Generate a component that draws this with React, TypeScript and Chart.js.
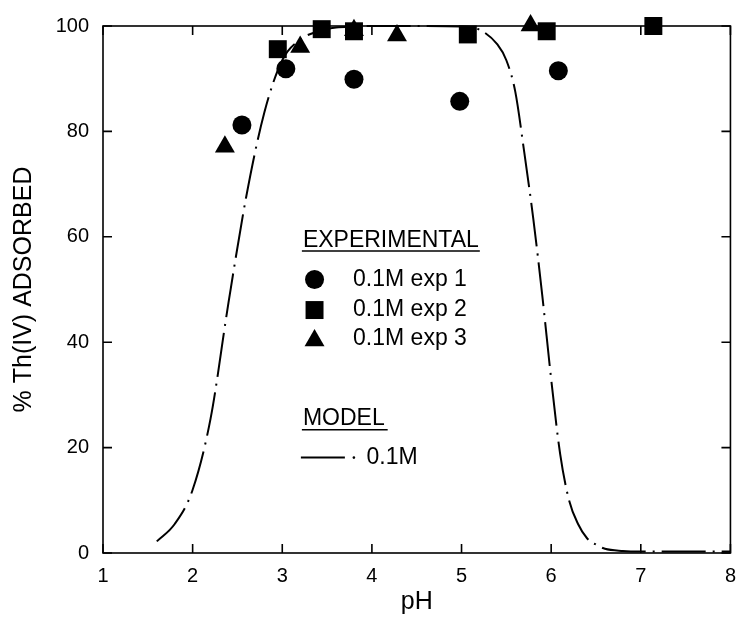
import React, { useEffect, useRef } from "react";
import { Chart, registerables } from "chart.js";

Chart.register(...registerables);

// ---- Data ----
const exp1X = [2.55, 3.04, 3.8, 4.98, 6.08];
const exp1Y = [81.2, 91.9, 89.9, 85.7, 91.5];

const exp2X = [2.95, 3.44, 3.8, 5.07, 5.95, 7.14];
const exp2Y = [95.6, 99.4, 99.0, 98.4, 99.0, 100.0];

const exp3X = [2.36, 3.2, 3.8, 4.28, 5.77];
const exp3Y = [77.1, 96.0, 99.2, 98.2, 100.1];

const modelX = [1.6, 1.8, 2.0, 2.2, 2.4, 2.6, 2.8, 3.0, 3.2, 3.4, 3.6, 3.8, 4.0, 4.5, 5.0, 5.2, 5.4, 5.5, 5.6, 5.7, 5.8, 5.9, 6.0, 6.1, 6.2, 6.3, 6.4, 6.5, 6.6, 6.8, 7.0, 7.5, 8.0];
const modelY = [2.2, 5.5, 12.0, 25.5, 47.5, 67.8, 83.6, 93.5, 97.4, 99.0, 99.7, 99.9, 100, 100, 99.9, 99.3, 96.5, 93.5, 87.5, 76.0, 63.5, 49.0, 33.0, 18.8, 10.0, 5.5, 2.8, 1.6, 0.8, 0.4, 0.3, 0.3, 0.3];

const xTicks = [1, 2, 3, 4, 5, 6, 7, 8];
const yTicks = [0, 20, 40, 60, 80, 100];

const xTitle = "pH";
const yTitle = "% Th(IV) ADSORBED";
const legendHeader1 = "EXPERIMENTAL";
const legendHeader2 = "MODEL";
const seriesLabels = ["0.1M exp 1", "0.1M exp 2", "0.1M exp 3"];
const modelLabel = "0.1M";

const FONT = "'Liberation Sans', Arial, Helvetica, sans-serif";
const DASH = [44, 7, 2, 7];

const toPts = (xs: number[], ys: number[]) => xs.map((x, i) => ({ x, y: ys[i] }));

function drawMarker(ctx: CanvasRenderingContext2D, style: string, x: number, y: number, r: number) {
  ctx.beginPath();
  if (style === "circle") {
    ctx.arc(x, y, r, 0, Math.PI * 2);
  } else if (style === "rect") {
    const s = Math.SQRT1_2 * r;
    ctx.rect(x - s, y - s, 2 * s, 2 * s);
  } else {
    const h = r;
    ctx.moveTo(x, y - h);
    ctx.lineTo(x + h * Math.sin(Math.PI * 2 / 3), y + h * 0.5);
    ctx.lineTo(x - h * Math.sin(Math.PI * 2 / 3), y + h * 0.5);
    ctx.closePath();
  }
  ctx.fill();
}

const framePlugin = {
  id: "frameTicks",
  afterDatasetsDraw(chart: any) {
    const { ctx, chartArea } = chart;
    const { left, right, top, bottom } = chartArea;
    const xs = chart.scales.x;
    const ys = chart.scales.y;
    ctx.save();
    ctx.strokeStyle = "#000";
    ctx.lineWidth = 1.6;
    ctx.strokeRect(left, top, right - left, bottom - top);
    const tl = 9;
    ctx.beginPath();
    xs.ticks.forEach((t: any) => {
      const px = xs.getPixelForValue(t.value);
      ctx.moveTo(px, bottom);
      ctx.lineTo(px, bottom - tl);
      ctx.moveTo(px, top);
      ctx.lineTo(px, top + tl);
    });
    ys.ticks.forEach((t: any) => {
      const py = ys.getPixelForValue(t.value);
      ctx.moveTo(left, py);
      ctx.lineTo(left + tl, py);
      ctx.moveTo(right, py);
      ctx.lineTo(right - tl, py);
    });
    ctx.stroke();

    // legend
    const lx = xs.getPixelForValue(3.23);
    const font = "23px " + FONT;
    ctx.fillStyle = "#000";
    ctx.font = font;
    ctx.textBaseline = "middle";
    ctx.textAlign = "left";
    const headY = ys.getPixelForValue(59.3);
    ctx.fillText(legendHeader1, lx, headY);
    let w = ctx.measureText(legendHeader1).width;
    ctx.lineWidth = 1.5;
    ctx.beginPath();
    ctx.moveTo(lx - 1, headY + 10.5);
    ctx.lineTo(lx + w + 1, headY + 10.5);
    ctx.stroke();

    const styles = ["circle", "rect", "triangle"];
    const radii = [9.5, 12.7, 11.5];
    const rowVals = [51.9, 46.1, 40.7];
    const markX = xs.getPixelForValue(3.36);
    const textX = xs.getPixelForValue(3.79);
    styles.forEach((s, i) => {
      const yy = ys.getPixelForValue(rowVals[i]);
      drawMarker(ctx, s, markX, s === "triangle" ? yy + 2 : yy, radii[i]);
      ctx.fillText(seriesLabels[i], textX, yy);
    });

    const mY = ys.getPixelForValue(25.4);
    ctx.fillText(legendHeader2, lx, mY);
    w = ctx.measureText(legendHeader2).width;
    ctx.beginPath();
    ctx.moveTo(lx - 1, mY + 10.5);
    ctx.lineTo(lx + w + 3, mY + 10.5);
    ctx.stroke();

    const lineY = ys.getPixelForValue(18.1);
    ctx.lineWidth = 2;
    ctx.beginPath();
    ctx.moveTo(lx - 2, lineY);
    ctx.lineTo(lx + 42, lineY);
    ctx.stroke();
    ctx.beginPath();
    ctx.arc(lx + 51, lineY, 1.3, 0, Math.PI * 2);
    ctx.fill();
    ctx.fillText(modelLabel, xs.getPixelForValue(3.94), lineY);
    ctx.restore();
  },
};

export default function App() {
  const ref = useRef<HTMLCanvasElement | null>(null);
  useEffect(() => {
    document.body.style.margin = "0";
    const canvas = ref.current!;
    const tickFont = { family: FONT, size: 20 };
    const chart = new Chart(canvas, {
      type: "scatter",
      data: {
        datasets: [
          {
            type: "line",
            label: modelLabel,
            data: toPts(modelX, modelY),
            borderColor: "#000",
            borderWidth: 2,
            borderDash: DASH,
            pointRadius: 0,
            fill: false,
            tension: 0.4,
            cubicInterpolationMode: "monotone",
            clip: false,
          } as any,
          {
            label: seriesLabels[0],
            data: toPts(exp1X, exp1Y),
            pointStyle: "circle",
            pointRadius: 9.5,
            backgroundColor: "#000",
            borderColor: "#000",
            borderWidth: 0,
            clip: false,
          } as any,
          {
            label: seriesLabels[1],
            data: toPts(exp2X, exp2Y),
            pointStyle: "rect",
            pointRadius: 12.7,
            backgroundColor: "#000",
            borderColor: "#000",
            borderWidth: 0,
            clip: false,
          } as any,
          {
            label: seriesLabels[2],
            data: toPts(exp3X, exp3Y),
            pointStyle: "triangle",
            pointRadius: 11.5,
            backgroundColor: "#000",
            borderColor: "#000",
            borderWidth: 0,
            clip: false,
          } as any,
        ],
      },
      options: {
        responsive: false,
        animation: false,
        devicePixelRatio: 1,
        layout: { padding: { top: 22, right: 9, left: 0, bottom: 0 } },
        plugins: { legend: { display: false }, tooltip: { enabled: false } },
        scales: {
          x: {
            type: "linear",
            min: 1,
            max: 8,
            afterBuildTicks: (s: any) => {
              s.ticks = xTicks.map((v) => ({ value: v }));
            },
            afterFit: (s: any) => {
              s.height = 80;
            },
            ticks: { color: "#000", font: tickFont, padding: 11, maxRotation: 0 },
            grid: { display: false, drawTicks: false },
            border: { display: false },
            title: {
              display: true,
              text: xTitle,
              color: "#000",
              font: { family: FONT, size: 25 },
              padding: { top: 0, bottom: 16 },
            },
          },
          y: {
            type: "linear",
            min: 0,
            max: 100,
            afterBuildTicks: (s: any) => {
              s.ticks = yTicks.map((v) => ({ value: v }));
            },
            afterFit: (s: any) => {
              s.width = 103;
            },
            ticks: { color: "#000", font: tickFont, padding: 14 },
            grid: { display: false, drawTicks: false },
            border: { display: false },
            title: {
              display: true,
              text: yTitle,
              color: "#000",
              font: { family: FONT, size: 25 },
              padding: { top: 9, bottom: 0 },
            },
          },
        },
      },
      plugins: [framePlugin],
    } as any);
    return () => chart.destroy();
  }, []);
  return (
    <div style={{ position: "fixed", left: 0, top: 0, width: 747, height: 633, background: "#fff" }}>
      <canvas ref={ref} width={747} height={633} style={{ width: 747, height: 633 }} />
    </div>
  );
}
